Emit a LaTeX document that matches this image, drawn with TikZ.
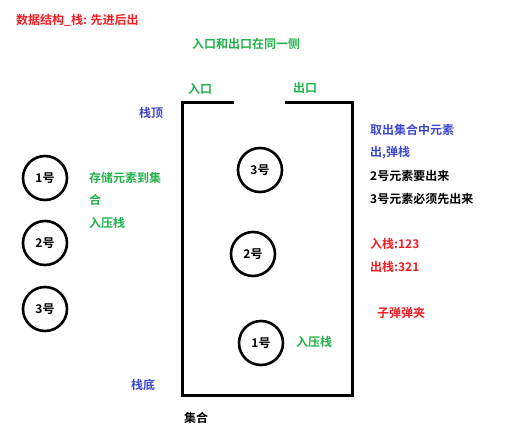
\documentclass[tikz,border=0pt]{standalone}
\usepackage{fontspec}
\setmainfont{Liberation Sans}
\newfontfamily\cjk{Noto Sans CJK SC}[BoldFont={Noto Sans CJK SC Bold}]
\usepackage{xcolor}
\usepackage{tikz}
\usetikzlibrary{positioning}
\definecolor{paintred}{RGB}{240, 30, 36}
\definecolor{paintgreen}{RGB}{34, 177, 76}
\definecolor{paintblue}{RGB}{63, 72, 204}
\tikzstyle{note} = [anchor=west, inner sep=0pt, font=\cjk\bfseries\fontsize{12}{14}\selectfont]
\tikzstyle{ball} = [circle, draw=black, line width=2.6pt, minimum size=44pt, inner sep=0pt, font=\cjk\bfseries\fontsize{12}{14}\selectfont]
\tikzstyle{wall} = [line width=3pt, line cap=rect]

\begin{document}
\begin{tikzpicture}[x=1pt, y=-1pt]
    \useasboundingbox (0,0) rectangle (525,437);

    % Title
    \node[note, paintred] (title) at (16, 20) {数据结构\_栈: 先进后出};
    \node[note, paintgreen] (side) at (192, 44) {入口和出口在同一侧};

    % Container
    \coordinate (inl) at (232, 102);
    \coordinate (outr) at (286, 102);
    \draw[wall] (inl) -- (182, 102) -- (182, 395) -- (352, 395) -- (352, 102) -- (outr);
    \node[note, paintgreen] (in) at (188, 89) {入口};
    \node[note, paintgreen] (out) at (293, 88) {出口};
    \node[note, paintblue] (top) at (139, 113) {栈顶};
    \node[note, paintblue] (bottom) at (131, 385) {栈底};
    \node[note] (set) at (184, 418) {集合};

    % Elements outside
    \node[ball] (o1) at (45, 178) {1号};
    \node[ball] (o2) at (45, 243) {2号};
    \node[ball] (o3) at (45, 309) {3号};

    % Elements inside
    \node[ball] (b3) at (260, 170) {3号};
    \node[ball] (b2) at (253, 254) {2号};
    \node[ball] (b1) at (261, 343) {1号};

    % Push notes
    \node[note, paintgreen] (push1) at (89, 178) {存储元素到集};
    \node[note, paintgreen] (push2) at (89, 200) {合};
    \node[note, paintgreen] (push3) at (89, 223) {入压栈};
    \node[note, paintgreen] (push4) at (296, 342) {入压栈};

    % Pop notes
    \node[note, paintblue] (pop1) at (370, 130) {取出集合中元素};
    \node[note, paintblue] (pop2) at (370, 153) {出,弹栈};
    \node[note] (pop3) at (370, 176) {2号元素要出来};
    \node[note] (pop4) at (370, 199) {3号元素必须先出来};
    \node[note, paintred] (order1) at (370, 244) {入栈:123};
    \node[note, paintred] (order2) at (370, 267) {出栈:321};
    \node[note, paintred] (clip) at (377, 313) {子弹弹夹};
\end{tikzpicture}
\end{document}
